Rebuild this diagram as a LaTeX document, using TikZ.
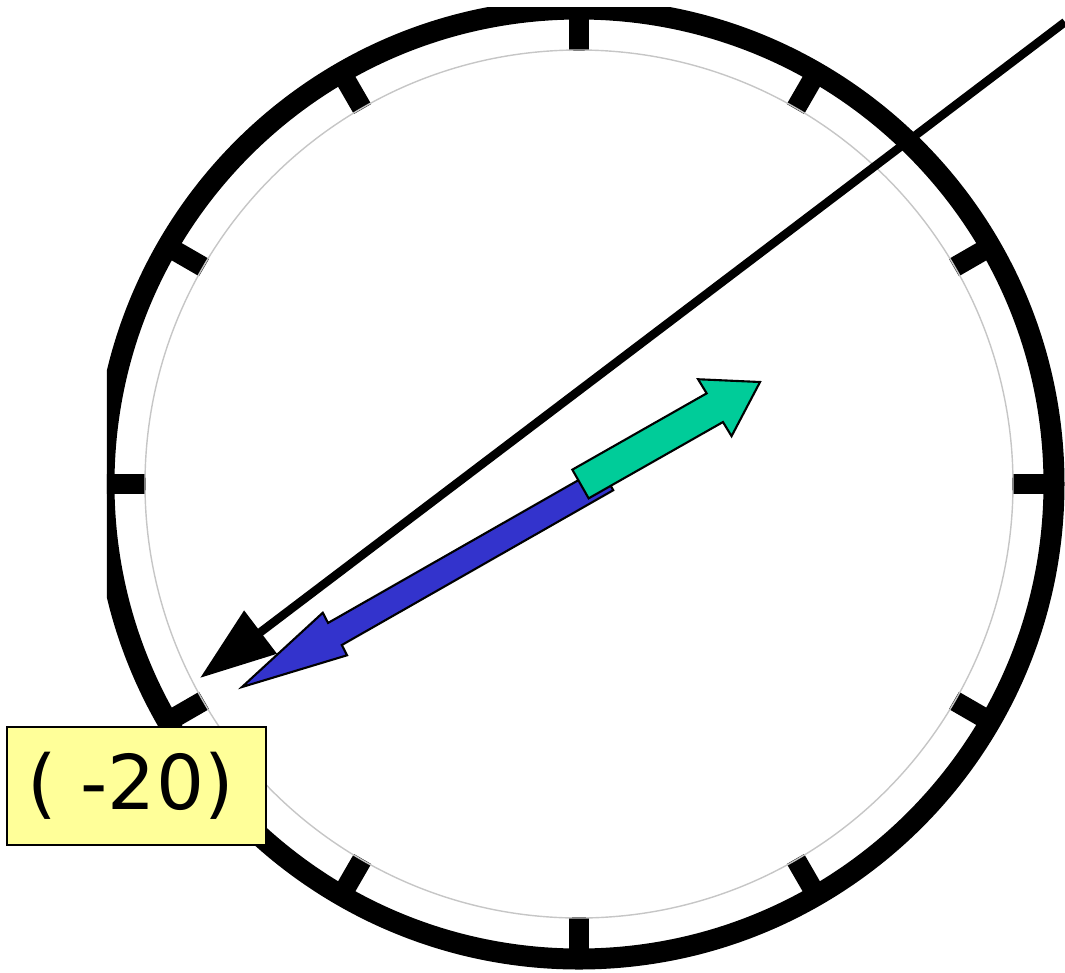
\documentclass[tikz,border=0pt]{standalone}
\usepackage{fontspec}
\newfontfamily\labelfont{DejaVu Sans}
\usetikzlibrary{arrows.meta}
\definecolor{dialblue}{HTML}{3333CC}
\definecolor{dialgreen}{HTML}{00CC99}
\definecolor{notepad}{HTML}{FFFF99}

\begin{document}
\begin{tikzpicture}[hourmark/.style={line width=0.2cm},
  fatarrow/.style={draw=black, line width=0.6pt, line join=miter}]
\useasboundingbox (-5.79,-4.88) rectangle (4.86,4.84);
\coordinate (o) at (0,0);
\begin{scope}
\clip (-4.72,-4.88) rectangle (4.86,4.77);
\draw[line width=0.21cm] (o) circle (4.75);
\foreach \a in {0,30,...,330}
  \draw[hourmark] (\a:4.33) -- (\a:4.76);
\end{scope}
\draw[gray!45, line width=0.4pt] (o) circle (4.34);
% pointer
\coordinate (far) at (4.86,4.62);
\coordinate (tip) at (-3.79,-1.94);
\draw[line width=0.085cm, -{Triangle[length=0.76cm,width=0.52cm]}] (far) -- (tip);
% blue arrow, from its tip
\begin{scope}[shift={(-3.37,-2.03)}, rotate=29.7]
\filldraw[fatarrow, fill=dialblue] (0,0) -- (1.07,0.245) -- (1.065,0.13) -- (4.2,0.13)
  -- (4.2,-0.13) -- (1.075,-0.13) -- (1.07,-0.245) -- cycle;
\end{scope}
% green arrow, from its tail
\begin{scope}[shift={(0.015,0)}, rotate=29.6]
\filldraw[fatarrow, fill=dialgreen] (0,0.165) -- (1.545,0.165) -- (1.54,0.33) -- (2.065,0)
  -- (1.55,-0.33) -- (1.545,-0.165) -- (0,-0.165) -- cycle;
\end{scope}
\node[draw, line width=0.8pt, fill=notepad, minimum width=2.59cm, minimum height=1.18cm,
  inner sep=0pt, font=\labelfont\fontsize{21.5}{26}\selectfont] (reading) at (-4.425,-3.02)
  {\hspace*{-0.12cm}( -20)};
\end{tikzpicture}
\end{document}
